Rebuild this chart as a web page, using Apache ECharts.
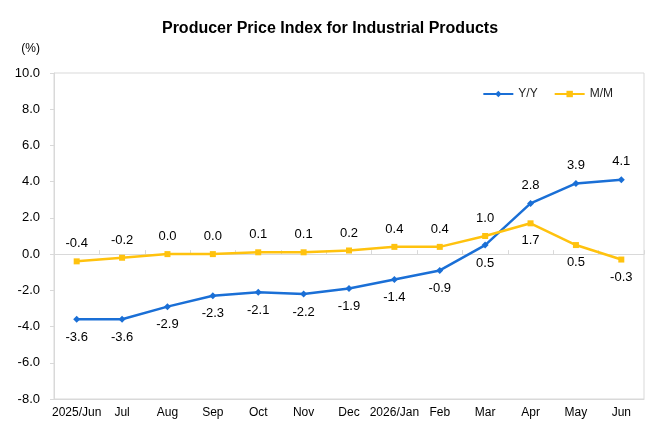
<!DOCTYPE html>
<html>
<head>
<meta charset="utf-8">
<script src="https://cdn.jsdelivr.net/npm/echarts@6/dist/echarts.min.js"></script>
<style>
  html, body { margin: 0; padding: 0; background: #fff; }
  #main { width: 660px; height: 440px; }
</style>
</head>
<body>
<div id="main"></div>
<script>
var months = ['2025/Jun', 'Jul', 'Aug', 'Sep', 'Oct', 'Nov', 'Dec', '2026/Jan', 'Feb', 'Mar', 'Apr', 'May', 'Jun'];
var yoy = [-3.6, -3.6, -2.9, -2.3, -2.1, -2.2, -1.9, -1.4, -0.9, 0.5, 2.8, 3.9, 4.1];
var mom = [-0.4, -0.2, 0.0, 0.0, 0.1, 0.1, 0.2, 0.4, 0.4, 1.0, 1.7, 0.5, -0.3];
// label side for each point
var yoyPos = ['bottom', 'bottom', 'bottom', 'bottom', 'bottom', 'bottom', 'bottom', 'bottom', 'bottom', 'bottom', 'top', 'top', 'top'];
var momPos = ['top', 'top', 'top', 'top', 'top', 'top', 'top', 'top', 'top', 'top', 'bottom', 'bottom', 'bottom'];

var font = 'Liberation Sans, Arial, sans-serif';

function pts(vals, pos) {
  return vals.map(function (v, i) {
    return { value: v, label: { position: pos[i] } };
  });
}

var chart = echarts.init(document.getElementById('main'));
chart.setOption({
  backgroundColor: '#fff',
  animation: false,
  textStyle: { fontFamily: font },
  title: {
    text: 'Producer Price Index for Industrial Products',
    left: 'center',
    top: 16,
    textStyle: { fontSize: 16, fontWeight: 'bold', color: '#000', fontFamily: font }
  },
  legend: {
    data: ['Y/Y', 'M/M'],
    right: 42,
    top: 83,
    itemWidth: 30,
    itemHeight: 8,
    itemGap: 16,
    textStyle: { fontSize: 12, color: '#222', fontFamily: font }
  },
  grid: { left: 54, right: 16, top: 73, bottom: 41, show: true, borderColor: '#d9d9d9', borderWidth: 1 },
  xAxis: [{
    type: 'category',
    data: months,
    boundaryGap: true,
    axisLine: { onZero: false, lineStyle: { color: '#d9d9d9' } },
    axisTick: { show: false },
    axisLabel: { interval: 0, fontSize: 12, color: '#000', margin: 8 }
  }, {
    // zero line with inward category ticks
    type: 'category',
    data: months,
    boundaryGap: true,
    position: 'bottom',
    axisLine: { onZero: true, lineStyle: { color: '#d9d9d9' } },
    axisTick: { show: true, inside: true, length: 4, interval: 0, lineStyle: { color: '#d9d9d9' } },
    axisLabel: { show: false }
  }],
  yAxis: {
    type: 'value',
    min: -8,
    max: 10,
    interval: 2,
    name: '(%)',
    nameLocation: 'end',
    nameGap: 18,
    nameTextStyle: { fontSize: 12, color: '#000', align: 'right', padding: [0, 14, 0, 0] },
    axisLine: { show: true, lineStyle: { color: '#d9d9d9' } },
    axisTick: { show: true, length: 4, lineStyle: { color: '#d9d9d9' } },
    splitLine: { show: false },
    axisLabel: {
      fontSize: 13, color: '#000', margin: 14,
      formatter: function (v) { return v.toFixed(1); }
    }
  },
  series: [{
    name: 'Y/Y',
    type: 'line',
    data: pts(yoy, yoyPos),
    symbol: 'diamond',
    symbolSize: 7,
    itemStyle: { color: '#1a6fd6' },
    lineStyle: { width: 2.5, color: '#1a6fd6' },
    label: {
      show: true, fontSize: 13, color: '#000', distance: 8,
      formatter: function (p) { return p.value.toFixed(1); }
    }
  }, {
    name: 'M/M',
    type: 'line',
    data: pts(mom, momPos),
    symbol: 'rect',
    symbolSize: 6,
    itemStyle: { color: '#ffc20e' },
    lineStyle: { width: 2.5, color: '#ffc20e' },
    label: {
      show: true, fontSize: 13, color: '#000', distance: 8,
      formatter: function (p) { return p.value.toFixed(1); }
    }
  }]
});
</script>
</body>
</html>
